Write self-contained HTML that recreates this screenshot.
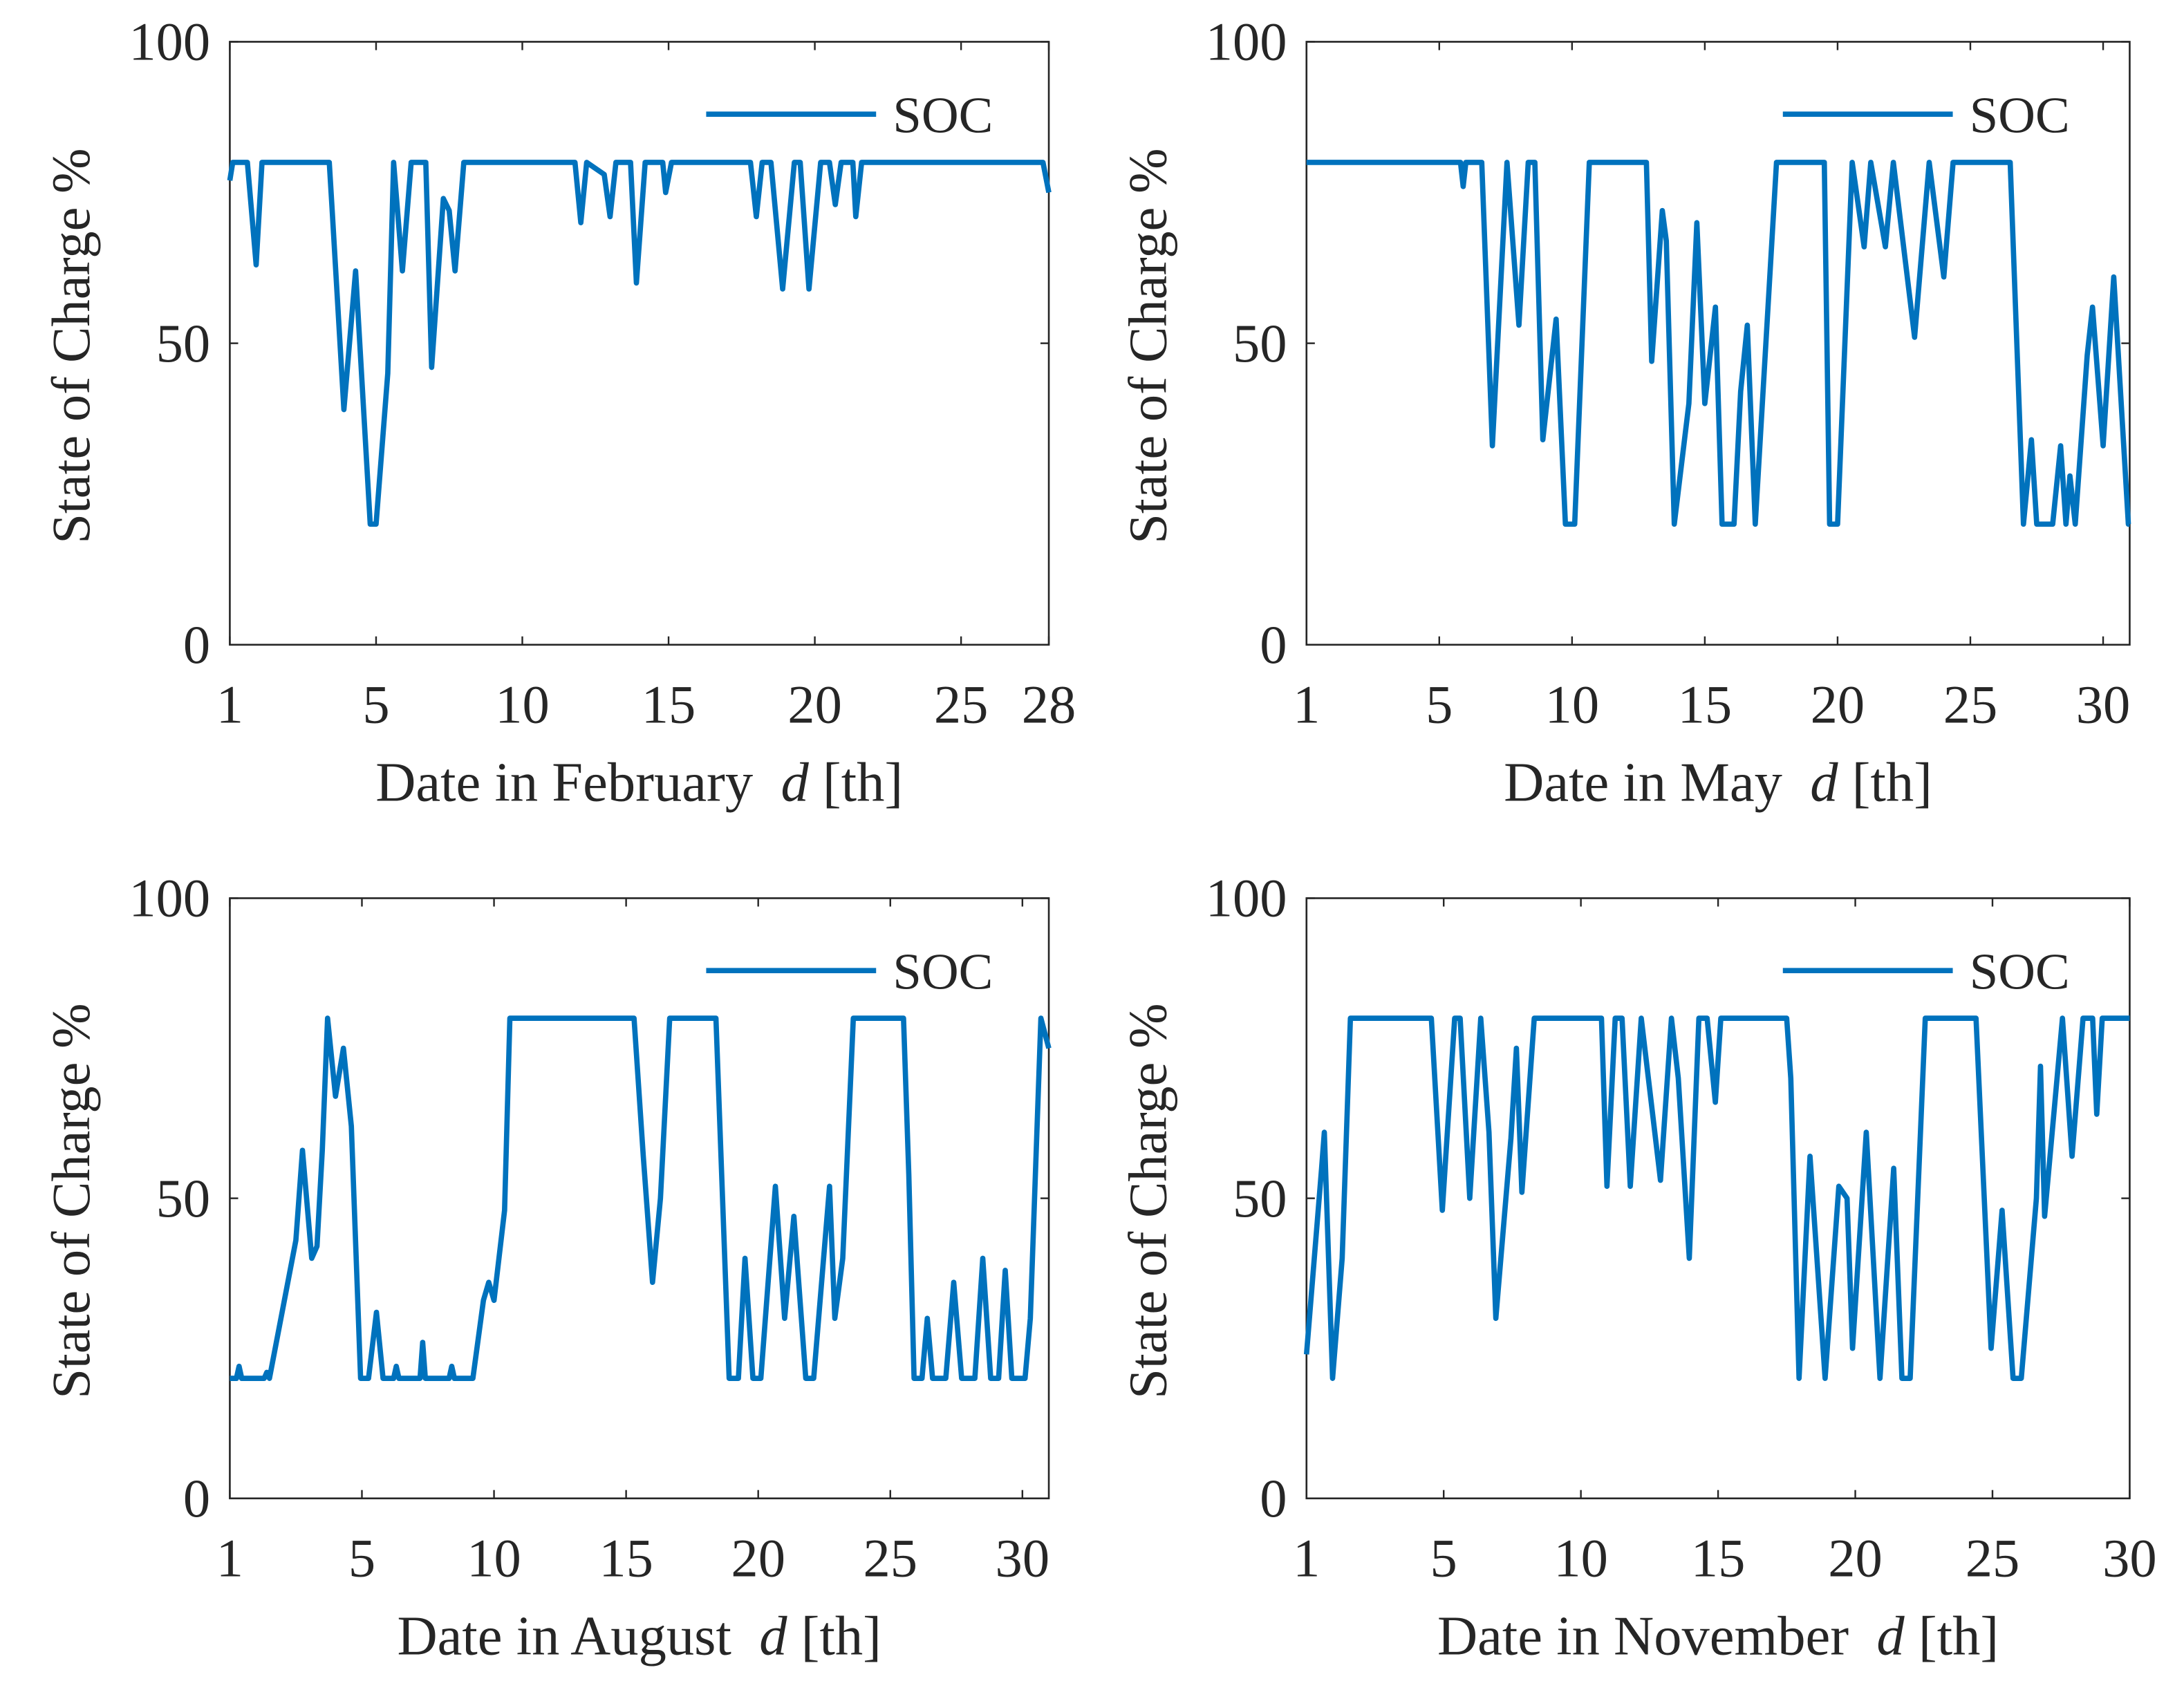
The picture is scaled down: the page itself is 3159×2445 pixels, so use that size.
<!DOCTYPE html>
<html><head><meta charset="utf-8">
<style>
html,body{margin:0;padding:0;background:#fff;}
svg{display:block;}
text{font-family:"Liberation Serif",serif;fill:#262626;}
</style></head>
<body>
<svg id="fig" width="3159" height="2445" viewBox="0 0 1568 1213.6" xmlns="http://www.w3.org/2000/svg"></svg>
<script>
// ---- data ----
const febDays=[0,0.1,0.6,0.9,1.1,3.4,3.5,3.9,4.3,4.8,5.0,5.4,5.6,5.9,6.2,6.7,6.9,7.3,7.5,7.7,8.0,11.8,12.0,12.2,12.8,13.0,13.2,13.7,13.9,14.2,14.8,14.9,15.1,17.8,18.0,18.2,18.5,18.9,19.3,19.5,19.8,20.2,20.5,20.7,20.9,21.3,21.4,21.6,27.8,28];
const febSoc =[77,80,80,63,80,80,72,39,62,20,20,45,80,62,80,80,46,74,72,62,80,80,70,80,78,71,80,80,60,80,80,75,80,80,71,80,80,59,80,80,59,80,80,73,80,80,71,80,80,75];
const mayDays=[0,5.8,5.9,6.0,6.6,7.0,7.55,8.0,8.35,8.6,8.9,9.4,9.75,10.1,10.65,12.8,13.0,13.4,13.55,13.85,14.4,14.7,15.0,15.4,15.65,16.1,16.35,16.6,16.9,17.7,19.5,19.7,20.0,20.55,21.0,21.25,21.8,22.1,22.9,23.45,24.0,24.35,26.5,27.0,27.3,27.5,28.1,28.4,28.6,28.75,28.95,29.4,29.6,30.0,30.4,30.95,31];
const maySoc =[80,80,76,80,80,33,80,53,80,80,34,54,20,20,80,80,47,72,67,20,40,70,40,56,20,20,42,53,20,80,80,20,20,80,66,80,66,80,51,80,61,80,80,20,34,20,20,33,20,28,20,48,56,33,61,20,20];
const augDays=[0,0.25,0.35,0.45,1.3,1.4,1.5,2.5,2.75,3.1,3.3,3.5,3.7,4.0,4.3,4.6,4.95,5.25,5.55,5.8,6.2,6.3,6.4,7.2,7.3,7.4,8.3,8.4,8.5,9.2,9.6,9.8,10.0,10.4,10.6,15.3,15.65,16.0,16.3,16.65,18.4,18.55,18.9,19.25,19.5,19.8,20.1,20.65,21.0,21.35,21.8,22.1,22.7,22.9,23.2,23.6,25.5,25.7,25.9,26.2,26.4,26.6,27.1,27.4,27.7,28.2,28.5,28.8,29.1,29.35,29.6,30.1,30.3,30.7,31];
const augSoc =[20,20,22,20,20,21,20,43,58,40,42,58,80,67,75,62,20,20,31,20,20,22,20,20,26,20,20,22,20,20,33,36,33,48,80,80,57,36,50,80,80,62,20,20,40,20,20,52,30,47,20,20,52,30,40,80,80,54,20,20,30,20,20,36,20,20,40,20,20,38,20,20,30,80,75];
const novDays=[0,0.55,0.65,0.95,1.3,1.6,4.55,4.95,5.4,5.6,5.95,6.35,6.65,6.9,7.45,7.65,7.85,8.3,10.75,10.95,11.25,11.5,11.8,12.2,12.9,13.3,13.55,13.95,14.3,14.6,14.9,15.1,17.5,17.65,17.95,18.35,18.9,19.4,19.7,19.9,20.4,20.9,21.4,21.7,22.0,22.55,24.4,24.95,25.35,25.75,26.05,26.6,26.75,26.9,27.55,27.9,28.3,28.65,28.8,29.0,30];
const novSoc =[24,55,61,20,40,80,80,48,80,80,50,80,61,30,60,75,51,80,80,52,80,80,52,80,53,80,70,40,80,80,66,80,80,70,20,57,20,52,50,25,61,20,55,20,20,80,80,25,48,20,20,50,72,47,80,57,80,80,64,80,80];
const febTicks=[0,5,10,15,20,25,28], febTickLabels=['1','5','10','15','20','25','28'];
const mayTicks=[0,5,10,15,20,25,30], mayTickLabels=['1','5','10','15','20','25','30'];
const augTicks=[0,5,10,15,20,25,30], augTickLabels=['1','5','10','15','20','25','30'];
const novTicks=[0,5,10,15,20,25,30], novTickLabels=['1','5','10','15','20','25','30'];
const yTicks=[0,50,100], yTickLabels=['0','50','100'];

const NS='http://www.w3.org/2000/svg';
const fig=document.getElementById('fig');
function mk(tag,attrs,parent){const e=document.createElementNS(NS,tag);for(const k in attrs)e.setAttribute(k,attrs[k]);(parent||fig).appendChild(e);return e;}

function panel(key,x0,x1,y0,y1,xmax,days,soc,ticks,tickLabels,month){
  const g=mk('g',{});
  
  
  const sx=d=>x0+(d/xmax)*(x1-x0);
  const sy=v=>y1-(v/100)*(y1-y0);
  const frame=mk('rect',{x:x0,y:y0,width:x1-x0,height:y1-y0,fill:'#fff',stroke:'#262626','stroke-width':1.3},g);
  
  
  ticks.forEach((t,i)=>{
    const x=sx(t);
    mk('line',{x1:x,x2:x,y1:y1,y2:y1-6,stroke:'#262626','stroke-width':1.2},g);
    mk('line',{x1:x,x2:x,y1:y0,y2:y0+6,stroke:'#262626','stroke-width':1.2},g);
    const tx=mk('text',{x:x,y:y1+56,'font-size':39,'text-anchor':'middle'},g);
    tx.textContent=tickLabels[i];
    
    
  });
  yTicks.forEach((t,i)=>{
    const y=sy(t);
    mk('line',{x1:x0,x2:x0+6,y1:y,y2:y,stroke:'#262626','stroke-width':1.2},g);
    mk('line',{x1:x1,x2:x1-6,y1:y,y2:y,stroke:'#262626','stroke-width':1.2},g);
    const tx=mk('text',{x:x0-14,y:y+13,'font-size':39,'text-anchor':'end'},g);
    tx.textContent=yTickLabels[i];
    
    
  });
  const pts=days.map((d,i)=>sx(d).toFixed(2)+','+sy(soc[i]).toFixed(2)).join(' ');
  const line=mk('polyline',{points:pts,fill:'none',stroke:'#0072BD','stroke-width':3.8,'stroke-linejoin':'round'},g);
  
  
  const lg=mk('g',{},g);
  
  
  mk('line',{x1:x0+342,x2:x0+464,y1:y0+52,y2:y0+52,stroke:'#0072BD','stroke-width':3.8},lg);
  const lt=mk('text',{x:x0+476,y:y0+65,'font-size':37},lg);
  lt.textContent='SOC';
  const xl=mk('text',{x:(x0+x1)/2,y:y1+112,'font-size':40,'text-anchor':'middle','xml:space':'preserve'},g);
  xl.innerHTML='Date in '+month+'\u00a0\u00a0<tspan font-style="italic">d</tspan> [th]';
  
  
  const cy=(y0+y1)/2+2;
  const yl=mk('text',{x:x0-101,y:cy,'font-size':39,'text-anchor':'middle',transform:'rotate(-90 '+(x0-101)+' '+cy+')'},g);
  yl.textContent='State of Charge %';
  
  
}
panel('february',165,753,30,463,28,febDays,febSoc,febTicks,febTickLabels,'February');
panel('may',938,1529,30,463,31,mayDays,maySoc,mayTicks,mayTickLabels,'May');
panel('august',165,753,645,1076,31,augDays,augSoc,augTicks,augTickLabels,'August');
panel('november',938,1529,645,1076,30,novDays,novSoc,novTicks,novTickLabels,'November');
</script>
</body></html>
